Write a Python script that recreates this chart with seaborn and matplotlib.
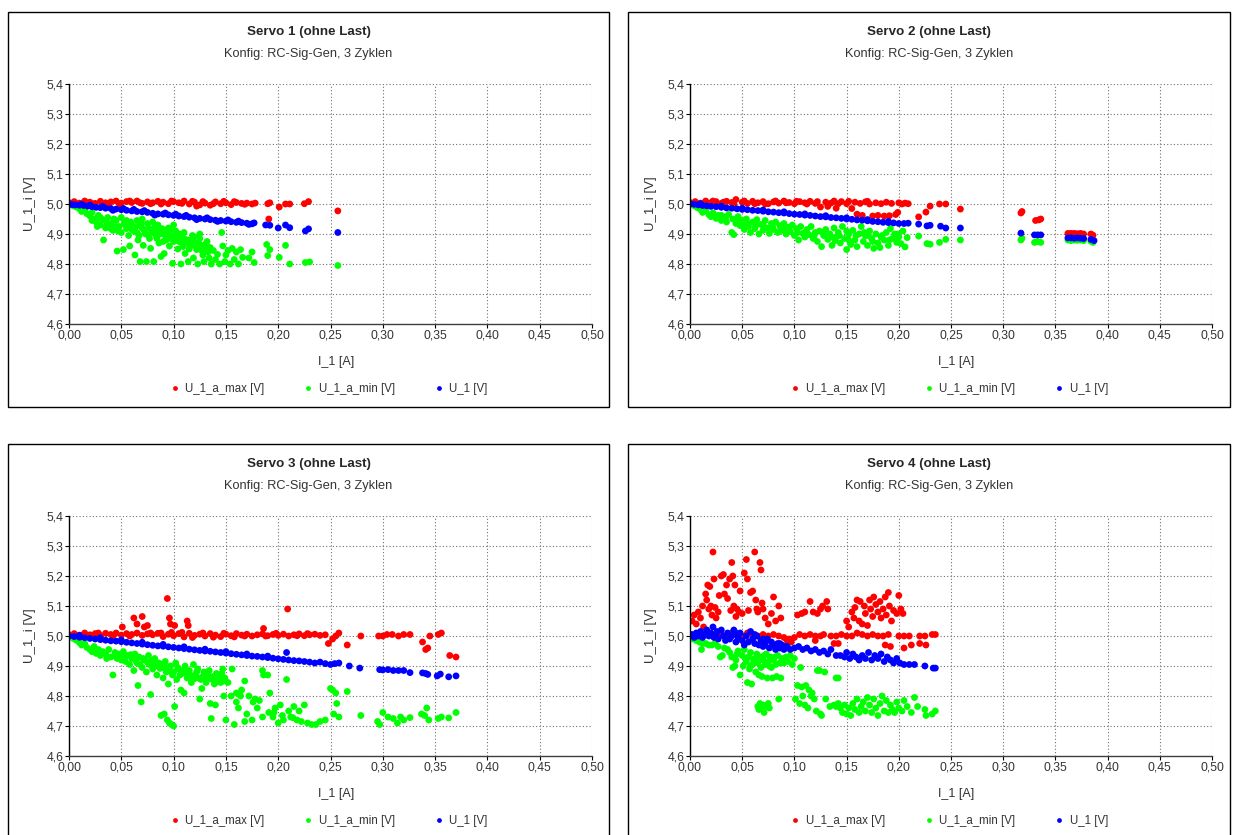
import matplotlib
matplotlib.use("Agg")
import matplotlib.pyplot as plt
import matplotlib.patches as patches
import numpy as np
import pandas as pd
import seaborn as sns

# ---- data (I_1 [A], U [V]) ----
titles = ["Servo 1 (ohne Last)", "Servo 2 (ohne Last)", "Servo 3 (ohne Last)", "Servo 4 (ohne Last)"]
subtitle = "Konfig: RC-Sig-Gen, 3 Zyklen"
series_names = ["U_1_a_max [V]", "U_1_a_min [V]", "U_1 [V]"]
x_ticks = [0.0, 0.05, 0.10, 0.15, 0.20, 0.25, 0.30, 0.35, 0.40, 0.45, 0.50]
x_tick_labels = ["0,00", "0,05", "0,10", "0,15", "0,20", "0,25", "0,30", "0,35", "0,40", "0,45", "0,50"]
y_ticks = [4.6, 4.7, 4.8, 4.9, 5.0, 5.1, 5.2, 5.3, 5.4]
y_tick_labels = ["4,6", "4,7", "4,8", "4,9", "5,0", "5,1", "5,2", "5,3", "5,4"]

s1_max = [(0.000,5.005),(0.005,5.008),(0.010,5.003),(0.015,5.010),(0.020,5.006),(0.025,5.002),(0.030,5.009),(0.035,5.004),
          (0.040,5.007),(0.045,5.010),(0.050,5.003),(0.055,5.008),(0.060,5.005),(0.065,5.010),(0.070,5.002),(0.075,5.007),
          (0.080,5.004),(0.085,5.009),(0.090,5.006),(0.095,5.001),(0.100,5.008),(0.105,5.004),(0.110,5.010),(0.115,5.000),
          (0.120,5.006),(0.125,4.997),(0.130,5.003),(0.135,4.996),(0.140,5.007),(0.145,5.001),(0.150,5.004),(0.155,4.998),
          (0.160,5.005),(0.165,5.002),(0.170,5.003),(0.175,5.000),(0.178,5.003),(0.190,5.001),(0.192,5.004),(0.191,4.950),
          (0.201,4.990),(0.207,5.000),(0.211,5.000),(0.225,5.001),(0.229,5.008),(0.257,4.977),(0.008,5.000),(0.022,5.001),
          (0.048,5.001),(0.068,5.004),(0.088,5.000),(0.108,5.002),(0.128,5.008),(0.148,5.009),(0.122,4.993),(0.018,5.004),
          (0.038,5.001),(0.058,5.010),(0.078,5.001),(0.098,5.010),(0.118,5.009),(0.138,5.001),(0.158,5.008),(0.168,4.999)]
s1_min = [(0.000,4.998),(0.004,4.994),(0.007,4.990),(0.010,4.984),(0.012,4.975),(0.015,4.980),(0.017,4.968),(0.020,4.960),
          (0.022,4.972),(0.024,4.950),(0.026,4.940),(0.028,4.962),(0.030,4.930),(0.032,4.948),(0.033,4.880),(0.035,4.920),
          (0.037,4.955),(0.040,4.935),(0.042,4.912),(0.045,4.945),(0.046,4.843),(0.048,4.925),(0.050,4.905),(0.052,4.848),
          (0.053,4.938),(0.055,4.918),(0.057,4.895),(0.058,4.860),(0.060,4.930),(0.062,4.910),(0.063,4.830),(0.065,4.945),
          (0.066,4.880),(0.068,4.808),(0.070,4.920),(0.071,4.862),(0.073,4.900),(0.074,4.808),(0.075,4.935),(0.077,4.885),
          (0.078,4.852),(0.080,4.915),(0.081,4.808),(0.083,4.895),(0.085,4.930),(0.086,4.870),(0.088,4.825),(0.090,4.905),
          (0.091,4.835),(0.093,4.880),(0.095,4.920),(0.096,4.860),(0.098,4.895),(0.099,4.802),(0.100,4.875),(0.102,4.910),
          (0.104,4.850),(0.105,4.890),(0.107,4.800),(0.108,4.870),(0.110,4.905),(0.111,4.835),(0.113,4.880),(0.114,4.808),
          (0.116,4.860),(0.118,4.895),(0.119,4.820),(0.120,4.870),(0.122,4.848),(0.123,4.800),(0.125,4.885),(0.126,4.862),
          (0.128,4.830),(0.129,4.808),(0.131,4.858),(0.132,4.875),(0.134,4.820),(0.136,4.800),(0.138,4.845),(0.140,4.815),
          (0.142,4.832),(0.144,4.800),(0.146,4.905),(0.147,4.860),(0.149,4.808),(0.150,4.830),(0.152,4.845),(0.154,4.800),
          (0.156,4.852),(0.158,4.815),(0.160,4.840),(0.162,4.800),(0.164,4.848),(0.166,4.822),(0.172,4.820),(0.175,4.840),
          (0.177,4.805),(0.189,4.865),(0.190,4.828),(0.192,4.848),(0.201,4.822),(0.207,4.862),(0.211,4.800),(0.226,4.805),
          (0.230,4.807),(0.257,4.795),(0.035,4.945),(0.045,4.925),(0.055,4.945),(0.065,4.905),(0.075,4.898),(0.085,4.912),
          (0.095,4.885),(0.105,4.875),(0.115,4.880),(0.125,4.900),(0.040,4.918),(0.060,4.915),(0.080,4.940),(0.100,4.930),
          (0.022,4.945),(0.030,4.955),(0.050,4.955),(0.070,4.950),(0.110,4.885),(0.120,4.890),(0.130,4.865),(0.090,4.875),
          (0.027,4.925),(0.036,4.932),(0.043,4.950),(0.047,4.910),(0.054,4.930),(0.059,4.940),(0.064,4.925),(0.067,4.895),
          (0.069,4.935),(0.072,4.912),(0.076,4.920),(0.079,4.905),(0.082,4.925),(0.084,4.885),(0.087,4.900),(0.089,4.918),
          (0.092,4.895),(0.094,4.905),(0.097,4.915),(0.101,4.892),(0.103,4.880),(0.106,4.900),(0.109,4.858),(0.112,4.870),
          (0.115,4.850),(0.117,4.875),(0.121,4.860),(0.124,4.870),(0.127,4.845),(0.130,4.850),(0.133,4.840),(0.135,4.855)]
s1_u = [(0.000,5.000),(0.003,4.998),(0.006,4.997),(0.010,4.996),(0.014,4.995),(0.018,4.993),(0.022,4.991),(0.026,4.989),
        (0.030,4.988),(0.035,4.986),(0.040,4.985),(0.045,4.983),(0.050,4.981),(0.055,4.979),(0.060,4.977),(0.065,4.975),
        (0.070,4.974),(0.075,4.972),(0.080,4.969),(0.085,4.967),(0.090,4.966),(0.095,4.964),(0.100,4.962),(0.105,4.960),
        (0.110,4.958),(0.115,4.956),(0.120,4.954),(0.125,4.952),(0.130,4.950),(0.135,4.948),(0.140,4.946),(0.145,4.945),
        (0.150,4.943),(0.155,4.941),(0.160,4.939),(0.165,4.938),(0.170,4.936),(0.175,4.934),(0.177,4.937),(0.188,4.930),
        (0.192,4.929),(0.200,4.920),(0.207,4.930),(0.211,4.921),(0.226,4.910),(0.229,4.917),(0.257,4.905),(0.012,4.999),
        (0.032,4.992),(0.052,4.985),(0.072,4.978),(0.092,4.970),(0.112,4.962),(0.132,4.954),(0.152,4.947),(0.162,4.943),
        (0.042,4.979),(0.082,4.963),(0.122,4.948),(0.020,4.996),(0.062,4.982),(0.102,4.966),(0.142,4.942),(0.172,4.932)]

s2_max = [(0.000,5.005),(0.005,5.008),(0.010,5.003),(0.015,5.010),(0.020,5.004),(0.025,5.008),(0.030,5.002),(0.035,5.009),
          (0.040,5.005),(0.044,5.015),(0.050,5.006),(0.055,5.002),(0.060,5.009),(0.065,5.004),(0.070,5.008),(0.075,5.001),
          (0.080,5.007),(0.085,5.003),(0.090,5.010),(0.095,5.005),(0.100,5.001),(0.105,5.008),(0.110,5.004),(0.115,5.009),
          (0.120,5.002),(0.125,4.990),(0.130,5.006),(0.132,4.992),(0.135,5.003),(0.140,4.986),(0.145,5.008),(0.150,5.001),
          (0.155,4.985),(0.158,5.006),(0.160,4.966),(0.163,5.002),(0.165,4.962),(0.168,5.007),(0.172,5.000),(0.175,4.960),
          (0.178,5.004),(0.180,4.962),(0.183,5.001),(0.186,4.960),(0.188,5.006),(0.191,4.961),(0.193,5.002),(0.197,4.965),
          (0.199,4.972),(0.200,5.004),(0.203,5.000),(0.206,5.003),(0.209,5.001),(0.219,4.957),(0.226,4.973),(0.230,4.993),
          (0.239,5.000),(0.245,5.000),(0.259,4.983),(0.317,4.970),(0.318,4.975),(0.331,4.945),(0.334,4.947),(0.336,4.950),
          (0.362,4.902),(0.365,4.902),(0.368,4.902),(0.371,4.901),(0.374,4.902),(0.377,4.900),(0.384,4.900),(0.386,4.896),
          (0.012,5.000),(0.032,5.006),(0.052,5.010),(0.072,5.000),(0.092,5.004),(0.112,5.000),(0.138,5.010),(0.152,5.009),
          (0.022,5.010),(0.042,5.000),(0.062,5.001),(0.082,5.010),(0.102,5.009),(0.122,5.008),(0.142,5.001),(0.170,5.009)]
s2_min = [(0.000,4.998),(0.004,4.994),(0.007,4.988),(0.010,4.982),(0.012,4.972),(0.015,4.978),(0.018,4.965),(0.020,4.958),
          (0.022,4.970),(0.025,4.952),(0.027,4.962),(0.030,4.945),(0.032,4.958),(0.035,4.940),(0.037,4.965),(0.040,4.905),
          (0.041,4.950),(0.042,4.898),(0.044,4.935),(0.046,4.958),(0.048,4.928),(0.050,4.945),(0.052,4.915),(0.054,4.950),
          (0.056,4.925),(0.058,4.905),(0.060,4.940),(0.062,4.918),(0.064,4.948),(0.066,4.900),(0.068,4.932),(0.070,4.912),
          (0.072,4.945),(0.074,4.920),(0.076,4.902),(0.078,4.935),(0.080,4.915),(0.082,4.940),(0.084,4.905),(0.086,4.928),
          (0.088,4.912),(0.090,4.935),(0.092,4.900),(0.094,4.922),(0.096,4.908),(0.098,4.930),(0.100,4.895),(0.102,4.918),
          (0.104,4.880),(0.106,4.925),(0.108,4.902),(0.110,4.890),(0.112,4.915),(0.114,4.898),(0.116,4.925),(0.118,4.885),
          (0.120,4.905),(0.122,4.875),(0.124,4.910),(0.126,4.858),(0.128,4.895),(0.130,4.915),(0.132,4.882),(0.134,4.900),
          (0.136,4.862),(0.138,4.920),(0.140,4.890),(0.142,4.905),(0.144,4.870),(0.146,4.925),(0.148,4.885),(0.150,4.848),
          (0.152,4.900),(0.154,4.865),(0.156,4.912),(0.158,4.880),(0.160,4.858),(0.162,4.900),(0.164,4.925),(0.166,4.875),
          (0.168,4.895),(0.170,4.862),(0.172,4.910),(0.174,4.885),(0.176,4.852),(0.178,4.900),(0.180,4.870),(0.182,4.855),
          (0.184,4.895),(0.186,4.880),(0.188,4.905),(0.190,4.862),(0.192,4.918),(0.194,4.885),(0.196,4.900),(0.198,4.872),
          (0.200,4.890),(0.202,4.868),(0.204,4.910),(0.206,4.857),(0.208,4.888),(0.219,4.893),(0.227,4.868),(0.230,4.866),
          (0.239,4.872),(0.245,4.882),(0.259,4.880),(0.317,4.880),(0.318,4.886),(0.330,4.872),(0.333,4.875),(0.336,4.872),
          (0.362,4.880),(0.365,4.878),(0.368,4.880),(0.371,4.879),(0.374,4.880),(0.377,4.878),(0.384,4.876),(0.386,4.872),
          (0.030,4.962),(0.050,4.930),(0.070,4.930),(0.090,4.918),(0.110,4.905),(0.130,4.895),(0.150,4.910),(0.170,4.895),
          (0.024,4.960),(0.034,4.950),(0.045,4.942),(0.055,4.935),(0.063,4.928),(0.071,4.922),(0.079,4.925),(0.087,4.920),
          (0.095,4.915),(0.103,4.905),(0.111,4.900),(0.119,4.895),(0.127,4.905),(0.135,4.890),(0.143,4.895),(0.151,4.885),
          (0.159,4.895),(0.167,4.905),(0.175,4.875),(0.183,4.890),(0.191,4.880),(0.199,4.900),(0.153,4.875),(0.139,4.878)]
s2_u = [(0.000,5.000),(0.004,4.999),(0.008,4.997),(0.012,4.995),(0.016,4.994),(0.020,4.992),(0.025,4.991),(0.030,4.989),
        (0.035,4.987),(0.040,4.986),(0.045,4.984),(0.050,4.982),(0.055,4.981),(0.060,4.979),(0.065,4.978),(0.070,4.976),
        (0.075,4.974),(0.080,4.973),(0.085,4.971),(0.090,4.970),(0.095,4.968),(0.100,4.966),(0.105,4.965),(0.110,4.963),
        (0.115,4.962),(0.120,4.960),(0.125,4.958),(0.130,4.957),(0.135,4.955),(0.140,4.954),(0.145,4.952),(0.150,4.950),
        (0.155,4.949),(0.160,4.947),(0.165,4.946),(0.170,4.944),(0.175,4.942),(0.180,4.941),(0.185,4.939),(0.190,4.938),
        (0.195,4.937),(0.200,4.935),(0.205,4.935),(0.209,4.936),(0.219,4.933),(0.227,4.927),(0.230,4.929),(0.240,4.926),
        (0.245,4.920),(0.259,4.920),(0.317,4.903),(0.330,4.897),(0.333,4.897),(0.336,4.897),(0.362,4.887),(0.365,4.887),
        (0.368,4.886),(0.371,4.887),(0.374,4.886),(0.377,4.885),(0.384,4.882),(0.387,4.878),(0.010,5.001),(0.030,4.993),
        (0.050,4.986),(0.070,4.980),(0.090,4.974),(0.110,4.967),(0.130,4.961),(0.150,4.954),(0.170,4.948),(0.190,4.942)]

s3_max = [(0.000,5.005),(0.005,5.008),(0.010,5.003),(0.015,5.010),(0.020,5.004),(0.025,5.008),(0.030,5.002),(0.035,5.009),
          (0.040,5.005),(0.045,5.010),(0.050,5.003),(0.055,5.008),(0.060,5.005),(0.065,5.010),(0.070,5.002),(0.075,5.007),
          (0.080,5.004),(0.085,5.009),(0.090,4.998),(0.095,5.006),(0.100,5.001),(0.105,5.008),(0.110,4.997),(0.115,5.009),
          (0.120,5.002),(0.125,5.006),(0.130,5.000),(0.135,5.008),(0.140,5.003),(0.145,4.998),(0.150,5.006),(0.155,5.001),
          (0.160,5.008),(0.165,5.003),(0.170,5.006),(0.175,5.000),(0.180,5.004),(0.185,5.007),(0.190,5.001),(0.195,5.005),
          (0.200,5.002),(0.205,5.006),(0.210,5.000),(0.215,5.004),(0.220,5.007),(0.225,5.001),(0.230,5.004),(0.235,5.006),
          (0.240,5.002),(0.245,5.004),(0.051,5.030),(0.062,5.060),(0.065,5.040),(0.070,5.065),(0.072,5.030),(0.075,5.035),
          (0.094,5.125),(0.096,5.060),(0.097,5.040),(0.101,5.035),(0.113,5.050),(0.114,5.035),(0.186,5.025),(0.209,5.090),
          (0.248,4.975),(0.252,4.990),(0.255,5.000),(0.258,5.010),(0.266,4.970),(0.279,5.000),(0.296,5.000),(0.300,5.000),
          (0.304,5.005),(0.309,5.005),(0.315,5.000),(0.320,5.005),(0.326,5.005),(0.338,4.980),(0.341,4.955),(0.343,4.960),
          (0.345,5.000),(0.353,5.005),(0.356,5.010),(0.364,4.935),(0.370,4.930),(0.012,5.000),(0.042,5.001),(0.088,5.010),
          (0.108,5.012),(0.118,4.995),(0.138,4.996),(0.158,4.997),(0.188,5.000),(0.218,5.001),(0.028,5.010),(0.058,5.000),
          (0.078,5.010),(0.098,5.012),(0.128,5.010),(0.148,5.009),(0.168,5.000),(0.198,5.009),(0.228,5.008)]
s3_min = [(0.000,4.998),(0.004,4.992),(0.007,4.986),(0.010,4.978),(0.012,4.970),(0.015,4.975),(0.017,4.962),(0.020,4.955),
          (0.022,4.948),(0.024,4.965),(0.026,4.942),(0.028,4.955),(0.030,4.935),(0.032,4.948),(0.035,4.940),(0.038,4.955),
          (0.040,4.930),(0.042,4.870),(0.044,4.945),(0.046,4.925),(0.048,4.940),(0.050,4.920),(0.052,4.948),(0.054,4.915),
          (0.056,4.935),(0.058,4.905),(0.060,4.925),(0.062,4.885),(0.063,4.940),(0.065,4.910),(0.066,4.835),(0.067,4.930),
          (0.069,4.780),(0.070,4.895),(0.072,4.920),(0.074,4.880),(0.076,4.935),(0.077,4.905),(0.078,4.805),(0.080,4.890),
          (0.082,4.925),(0.084,4.870),(0.086,4.910),(0.088,4.735),(0.089,4.895),(0.090,4.860),(0.091,4.740),(0.092,4.915),
          (0.093,4.880),(0.094,4.720),(0.095,4.840),(0.096,4.710),(0.097,4.900),(0.098,4.705),(0.099,4.870),(0.100,4.700),
          (0.101,4.765),(0.102,4.910),(0.103,4.855),(0.105,4.890),(0.107,4.820),(0.108,4.875),(0.110,4.810),(0.111,4.900),
          (0.113,4.860),(0.115,4.885),(0.117,4.845),(0.119,4.905),(0.121,4.870),(0.123,4.890),(0.125,4.790),(0.126,4.855),
          (0.127,4.825),(0.129,4.880),(0.131,4.845),(0.133,4.870),(0.135,4.775),(0.136,4.725),(0.137,4.855),(0.139,4.840),
          (0.140,4.770),(0.141,4.875),(0.143,4.850),(0.145,4.845),(0.147,4.890),(0.149,4.860),(0.150,4.720),(0.152,4.845),
          (0.155,4.800),(0.156,4.890),(0.158,4.705),(0.160,4.780),(0.162,4.760),(0.164,4.800),(0.165,4.820),(0.168,4.850),
          (0.170,4.740),(0.172,4.800),(0.175,4.720),(0.178,4.790),(0.180,4.760),(0.182,4.785),(0.185,4.885),(0.186,4.870),
          (0.190,4.870),(0.191,4.745),(0.192,4.810),(0.195,4.730),(0.197,4.760),(0.200,4.710),(0.202,4.770),(0.205,4.720),
          (0.208,4.855),(0.210,4.750),(0.212,4.730),(0.215,4.765),(0.218,4.720),(0.220,4.750),(0.222,4.715),(0.225,4.770),
          (0.228,4.710),(0.232,4.705),(0.236,4.705),(0.240,4.715),(0.245,4.720),(0.250,4.825),(0.252,4.820),(0.255,4.810),
          (0.256,4.775),(0.258,4.730),(0.253,4.740),(0.266,4.815),(0.279,4.735),(0.295,4.715),(0.297,4.705),(0.300,4.745),
          (0.305,4.730),(0.310,4.725),(0.314,4.710),(0.317,4.730),(0.320,4.720),(0.326,4.728),(0.337,4.740),(0.340,4.735),
          (0.342,4.760),(0.344,4.720),(0.353,4.725),(0.356,4.730),(0.363,4.727),(0.370,4.745),(0.185,4.730),(0.196,4.745),
          (0.204,4.735),(0.214,4.728),(0.168,4.715),(0.176,4.780),(0.148,4.800),(0.160,4.810),(0.036,4.925),(0.045,4.932),
          (0.053,4.928),(0.059,4.938),(0.064,4.918),(0.068,4.905),(0.071,4.925),(0.075,4.912),(0.079,4.918),(0.083,4.900),
          (0.087,4.892),(0.091,4.905),(0.094,4.888),(0.098,4.880),(0.104,4.895),(0.106,4.870),(0.109,4.885),(0.112,4.875),
          (0.116,4.870),(0.118,4.860),(0.122,4.880),(0.124,4.860),(0.128,4.865),(0.132,4.855),(0.134,4.885),(0.138,4.865),
          (0.142,4.848),(0.144,4.860),(0.146,4.875),(0.148,4.850),(0.100,4.880),(0.090,4.900),(0.080,4.910),(0.120,4.858)]
s3_u = [(0.000,5.000),(0.005,4.998),(0.010,4.996),(0.015,4.994),(0.020,4.992),(0.025,4.990),(0.030,4.988),(0.035,4.986),
        (0.040,4.984),(0.045,4.983),(0.050,4.981),(0.055,4.979),(0.060,4.977),(0.065,4.975),(0.070,4.973),(0.075,4.971),
        (0.080,4.969),(0.085,4.967),(0.090,4.966),(0.095,4.964),(0.100,4.962),(0.105,4.960),(0.110,4.958),(0.115,4.956),
        (0.120,4.954),(0.125,4.952),(0.130,4.950),(0.135,4.949),(0.140,4.947),(0.145,4.945),(0.150,4.943),(0.155,4.941),
        (0.160,4.939),(0.165,4.937),(0.170,4.935),(0.175,4.933),(0.180,4.932),(0.185,4.930),(0.190,4.928),(0.195,4.926),
        (0.200,4.924),(0.205,4.922),(0.208,4.945),(0.210,4.920),(0.215,4.918),(0.220,4.917),(0.225,4.915),(0.230,4.913),
        (0.235,4.910),(0.240,4.913),(0.245,4.908),(0.250,4.905),(0.254,4.908),(0.258,4.910),(0.268,4.900),(0.278,4.893),
        (0.297,4.888),(0.300,4.887),(0.305,4.888),(0.310,4.885),(0.315,4.885),(0.320,4.885),(0.326,4.878),(0.338,4.877),
        (0.341,4.875),(0.343,4.872),(0.352,4.867),(0.355,4.873),(0.363,4.864),(0.370,4.867),(0.010,5.002),(0.030,4.994),
        (0.050,4.987),(0.070,4.979),(0.090,4.972),(0.110,4.964),(0.130,4.956),(0.150,4.948),(0.170,4.940),(0.190,4.933)]

s4_max = [(0.002,5.050),(0.004,5.070),(0.006,5.040),(0.008,5.080),(0.010,5.060),(0.012,5.100),(0.013,5.030),(0.015,5.140),
          (0.016,5.120),(0.017,5.170),(0.018,5.090),(0.019,5.165),(0.020,5.100),(0.021,5.070),(0.022,5.280),(0.023,5.190),
          (0.024,5.095),(0.025,5.060),(0.027,5.080),(0.028,5.135),(0.030,5.200),(0.032,5.205),(0.033,5.140),(0.035,5.170),
          (0.036,5.125),(0.038,5.190),(0.039,5.085),(0.040,5.245),(0.041,5.200),(0.042,5.100),(0.043,5.170),(0.044,5.065),
          (0.045,5.090),(0.047,5.080),(0.048,5.150),(0.050,5.075),(0.052,5.210),(0.054,5.255),(0.055,5.190),(0.056,5.085),
          (0.058,5.145),(0.060,5.150),(0.062,5.280),(0.063,5.120),(0.064,5.090),(0.065,5.080),(0.067,5.245),(0.068,5.220),
          (0.069,5.110),(0.070,5.090),(0.072,5.060),(0.075,5.040),(0.078,5.075),(0.080,5.130),(0.082,5.050),(0.085,5.100),
          (0.087,5.060),(0.030,5.005),(0.035,5.000),(0.040,5.010),(0.045,5.005),(0.050,5.000),(0.055,5.010),(0.060,5.005),
          (0.065,5.000),(0.070,5.005),(0.075,5.000),(0.080,5.005),(0.085,5.000),(0.090,4.995),(0.093,4.985),(0.095,4.990),
          (0.097,4.980),(0.100,4.995),(0.105,5.005),(0.110,5.000),(0.115,5.005),(0.120,5.000),(0.125,5.000),(0.128,5.005),
          (0.135,5.000),(0.140,5.000),(0.145,5.005),(0.150,5.000),(0.155,5.000),(0.160,5.010),(0.165,5.005),(0.170,5.000),
          (0.175,5.005),(0.180,5.000),(0.185,5.000),(0.190,5.005),(0.200,5.000),(0.205,5.000),(0.210,5.000),(0.220,5.000),
          (0.225,5.000),(0.232,5.005),(0.235,5.005),(0.120,4.985),(0.138,4.975),(0.142,4.975),(0.187,4.970),(0.192,4.965),
          (0.205,4.960),(0.212,4.970),(0.220,4.975),(0.226,4.970),(0.103,5.070),(0.107,5.075),(0.110,5.080),(0.115,5.115),
          (0.118,5.080),(0.122,5.075),(0.125,5.090),(0.127,5.100),(0.131,5.115),(0.132,5.090),(0.150,5.050),(0.152,5.030),
          (0.155,5.080),(0.157,5.060),(0.158,5.095),(0.160,5.120),(0.162,5.050),(0.163,5.115),(0.165,5.040),(0.167,5.100),
          (0.168,5.075),(0.170,5.035),(0.172,5.120),(0.173,5.090),(0.175,5.065),(0.176,5.130),(0.178,5.105),(0.180,5.080),
          (0.182,5.115),(0.183,5.060),(0.185,5.090),(0.187,5.130),(0.188,5.070),(0.190,5.145),(0.191,5.100),(0.193,5.050),
          (0.195,5.085),(0.198,5.075),(0.200,5.135),(0.202,5.090),(0.204,5.075)]
s4_min = [(0.000,4.995),(0.003,4.990),(0.006,4.985),(0.009,4.980),(0.012,4.975),(0.011,4.955),(0.015,4.975),(0.018,4.970),
          (0.021,4.970),(0.024,4.975),(0.027,4.965),(0.029,4.930),(0.031,4.935),(0.033,4.960),(0.036,4.955),(0.038,4.945),
          (0.040,4.930),(0.041,4.895),(0.043,4.900),(0.044,4.920),(0.046,4.950),(0.048,4.870),(0.050,4.935),(0.051,4.900),
          (0.052,4.955),(0.054,4.915),(0.055,4.845),(0.056,4.930),(0.057,4.890),(0.058,4.945),(0.059,4.840),(0.060,4.905),
          (0.062,4.925),(0.063,4.880),(0.064,4.940),(0.065,4.910),(0.066,4.870),(0.067,4.930),(0.068,4.895),(0.069,4.865),
          (0.070,4.920),(0.072,4.905),(0.073,4.940),(0.074,4.860),(0.075,4.915),(0.077,4.930),(0.078,4.895),(0.079,4.860),
          (0.080,4.920),(0.082,4.905),(0.083,4.865),(0.084,4.935),(0.086,4.910),(0.087,4.860),(0.088,4.925),(0.090,4.910),
          (0.092,4.930),(0.094,4.915),(0.096,4.935),(0.098,4.905),(0.100,4.925),(0.106,4.895),(0.065,4.765),(0.066,4.755),
          (0.067,4.775),(0.068,4.760),(0.070,4.770),(0.071,4.745),(0.073,4.765),(0.075,4.775),(0.076,4.760),(0.085,4.790),
          (0.101,4.790),(0.103,4.835),(0.105,4.775),(0.107,4.830),(0.108,4.800),(0.110,4.770),(0.111,4.835),(0.113,4.760),
          (0.114,4.820),(0.116,4.800),(0.117,4.810),(0.119,4.790),(0.121,4.750),(0.122,4.885),(0.124,4.885),(0.125,4.740),
          (0.126,4.735),(0.129,4.880),(0.130,4.790),(0.134,4.765),(0.140,4.860),(0.142,4.860),(0.138,4.770),(0.140,4.765),
          (0.142,4.775),(0.144,4.760),(0.146,4.745),(0.148,4.770),(0.150,4.740),(0.152,4.760),(0.154,4.735),(0.156,4.775),
          (0.158,4.755),(0.160,4.790),(0.162,4.745),(0.164,4.765),(0.166,4.780),(0.168,4.750),(0.170,4.795),(0.172,4.770),
          (0.174,4.745),(0.176,4.790),(0.178,4.760),(0.180,4.735),(0.182,4.775),(0.184,4.800),(0.186,4.750),(0.188,4.785),
          (0.190,4.745),(0.192,4.770),(0.194,4.755),(0.196,4.745),(0.198,4.780),(0.200,4.760),(0.203,4.750),(0.205,4.785),
          (0.208,4.765),(0.212,4.745),(0.215,4.795),(0.218,4.765),(0.225,4.755),(0.226,4.735),(0.232,4.740),(0.235,4.750),
          (0.045,4.940),(0.053,4.925),(0.061,4.918),(0.071,4.935),(0.081,4.930),(0.091,4.920),(0.058,4.900),(0.076,4.900)]
s4_u = [(0.000,5.000),(0.002,5.005),(0.004,4.995),(0.006,5.010),(0.008,5.000),(0.010,5.015),(0.012,4.995),(0.014,5.005),
        (0.016,5.020),(0.018,5.000),(0.020,5.010),(0.022,5.030),(0.023,4.995),(0.025,5.005),(0.027,4.990),(0.030,5.020),
        (0.032,5.000),(0.034,4.985),(0.036,5.010),(0.038,4.990),(0.040,5.000),(0.042,5.020),(0.044,4.980),(0.046,4.995),
        (0.048,5.010),(0.050,4.985),(0.052,4.970),(0.054,5.000),(0.056,4.980),(0.058,5.015),(0.060,4.990),(0.062,4.975),
        (0.064,5.000),(0.066,4.970),(0.068,4.985),(0.070,4.965),(0.072,4.975),(0.074,4.990),(0.076,4.960),(0.078,4.980),
        (0.080,4.970),(0.082,4.955),(0.084,4.975),(0.086,4.960),(0.088,4.970),(0.090,4.955),(0.093,4.965),(0.096,4.955),
        (0.100,4.960),(0.104,4.965),(0.108,4.955),(0.112,4.960),(0.116,4.950),(0.120,4.955),(0.124,4.945),(0.128,4.950),
        (0.132,4.940),(0.135,4.955),(0.140,4.935),(0.144,4.935),(0.148,4.930),(0.150,4.945),(0.153,4.925),(0.156,4.940),
        (0.159,4.930),(0.162,4.920),(0.165,4.935),(0.168,4.925),(0.171,4.945),(0.174,4.920),(0.177,4.935),(0.180,4.925),
        (0.183,4.940),(0.186,4.915),(0.189,4.930),(0.192,4.920),(0.195,4.910),(0.198,4.925),(0.201,4.910),(0.205,4.905),
        (0.210,4.905),(0.215,4.905),(0.225,4.900),(0.233,4.893),(0.235,4.893),(0.026,5.015),(0.044,5.010),(0.062,5.005),
        (0.070,4.990),(0.086,4.975),(0.092,4.965)]

panels = [(s1_max, s1_min, s1_u), (s2_max, s2_min, s2_u), (s3_max, s3_min, s3_u), (s4_max, s4_min, s4_u)]
palette = {"U_1_a_max [V]": "#ff0000", "U_1_a_min [V]": "#00ff00", "U_1 [V]": "#0000ff"}

sns.set_style("white")
plt.rcParams["font.family"] = ["Liberation Sans", "DejaVu Sans"]

W, H = 1233, 835
fig = plt.figure(figsize=(W / 100, H / 100), dpi=100)

# panel boxes (pixels) and axes rectangles (pixels)
boxes = [(8, 12, 609, 407), (628, 12, 1230, 407), (8, 444, 609, 845), (628, 444, 1230, 845)]
axes_px = [(69, 84, 592, 324), (690, 84, 1212, 324), (69, 516, 592, 756), (690, 516, 1212, 756)]

for i, (ser, box, apx) in enumerate(zip(panels, boxes, axes_px)):
    bx0, by0, bx1, by1 = box
    fig.add_artist(patches.Rectangle((bx0 / W, 1 - by1 / H), (bx1 - bx0) / W, (by1 - by0) / H,
                                     transform=fig.transFigure, fill=False, ec="black", lw=1.0))
    cx = (bx0 + bx1) / 2 / W
    fig.text(cx, 1 - (by0 + 20) / H, titles[i], ha="center", va="center", fontsize=9.6, fontweight="bold")
    fig.text(cx, 1 - (by0 + 42) / H, subtitle, ha="center", va="center", fontsize=9.2, color="#333333")

    x0, y0, x1, y1 = apx
    ax = fig.add_axes([x0 / W, 1 - y1 / H, (x1 - x0) / W, (y1 - y0) / H])
    rows = []
    for name, pts in zip(series_names, ser):
        for px, py in pts:
            rows.append({"I_1 [A]": px, "U": py, "Reihe": name})
    df = pd.DataFrame(rows)
    sns.scatterplot(data=df, x="I_1 [A]", y="U", hue="Reihe", hue_order=series_names,
                    palette=palette, s=24, linewidth=0, ax=ax)

    ax.set_xlim(0, 0.5)
    ax.set_ylim(4.6, 5.4)
    ax.set_xticks(x_ticks)
    ax.set_xticklabels(x_tick_labels)
    ax.set_yticks(y_ticks)
    ax.set_yticklabels(y_tick_labels)
    ax.tick_params(axis="both", labelsize=8.8, length=3, width=0.8, direction="out",
                   colors="black", labelcolor="#333333", pad=1)
    ax.tick_params(bottom=True, left=True)
    ax.grid(True, linestyle=(0, (1, 2)), color="#707070", linewidth=0.8)
    ax.set_axisbelow(True)
    for side in ["top", "right"]:
        ax.spines[side].set_visible(False)
    ax.spines["left"].set_color("black")
    ax.spines["bottom"].set_color("#404040")
    for side in ["left", "bottom"]:
        ax.spines[side].set_linewidth(1.0)
    ax.set_xlabel("I_1 [A]", fontsize=9, color="#333333")
    ax.set_ylabel("U_1_i [V]", fontsize=9.5, color="#333333")
    ax.xaxis.set_label_coords(0.51, -0.135)
    ax.yaxis.set_label_coords(-0.064, 0.5)
    sns.move_legend(ax, "center", bbox_to_anchor=(0.497, -0.27), ncol=3, frameon=False, title=None,
                    fontsize=8.3, markerscale=0.7, handlelength=0.8, handletextpad=0.5, columnspacing=3.4)
    for t in ax.get_legend().get_texts():
        t.set_color("#333333")

fig.savefig("out.png", dpi=100)
